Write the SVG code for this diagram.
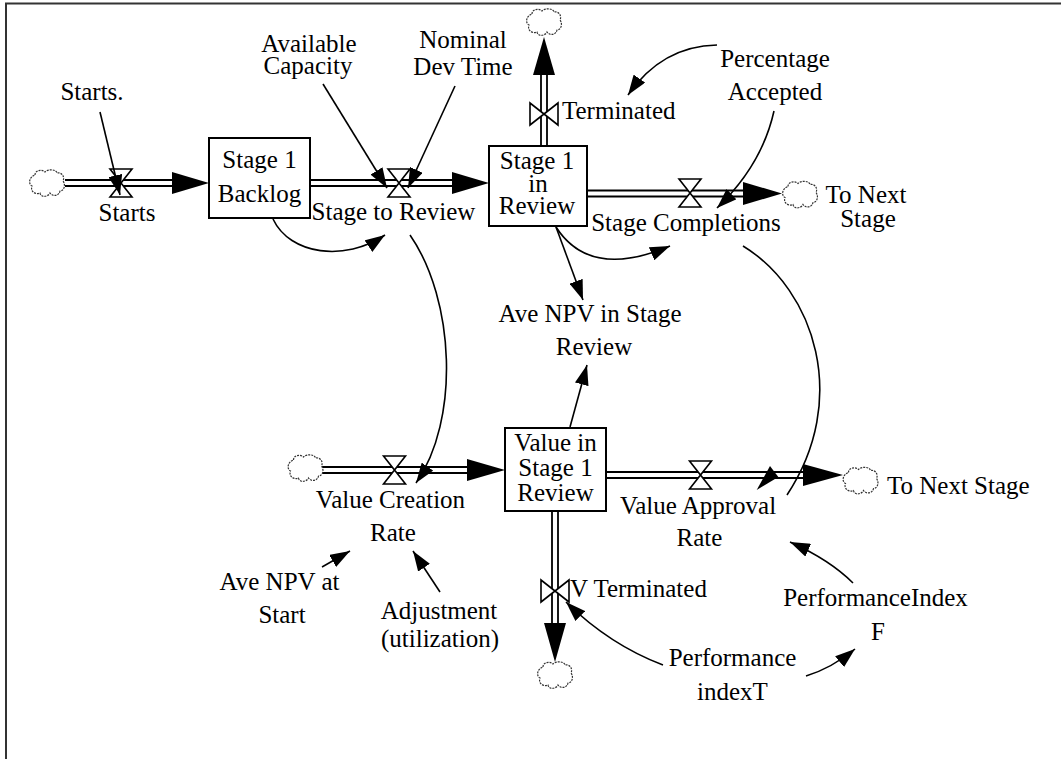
<svg xmlns="http://www.w3.org/2000/svg" width="1061" height="759" viewBox="0 0 1061 759">
<style>
 text{font-family:"Liberation Serif","Times New Roman",serif;font-size:25px;fill:#000}
 .m{text-anchor:middle}
 .box{fill:#fff;stroke:#000;stroke-width:2}
 .valve{fill:#fff;stroke:#000;stroke-width:1.6}
 .pipe{stroke:#000;stroke-width:1.8;fill:none}
 .fh{fill:#000}
 .conn{fill:none;stroke:#000;stroke-width:1.6;marker-end:url(#ah)}
 .line{fill:none;stroke:#000;stroke-width:1.6}
 .cloud{fill:#fff;stroke:#333;stroke-width:1.2;stroke-dasharray:2 1}
 .frame{stroke:#333;stroke-width:2;fill:none}
</style>
<defs>
 <marker id="ah" viewBox="0 0 20 14" refX="20" refY="7" markerWidth="20" markerHeight="14" markerUnits="userSpaceOnUse" orient="auto"><path d="M0,0 L20,7 L0,14 Z" fill="#000"/></marker>
 <path id="cloud" class="cloud" d="M-12,-8 C-12,-13 -5,-14 -2,-11 C1,-14 9,-14 10,-10 C15,-11 18,-6 16,-2 C19,2 17,8 13,8 C12,13 6,14 3,10 C1,14 -6,15 -7,10 C-12,12 -17,8 -15,3 C-19,1 -18,-6 -12,-8 Z"/>
</defs>
<rect width="1061" height="759" fill="#fff"/>
<path class="frame" d="M6,759 V3.5 H1061"/>

<g id="flows">
 <path class="pipe" d="M65,180 H175 M65,186 H175"/>
 <polygon class="fh" points="172,172 209,183 172,194"/>
 <path class="pipe" d="M310,180 H455 M310,186 H455"/>
 <polygon class="fh" points="452,172 489,183 452,194"/>
 <path class="pipe" d="M541,146 V72 M547,146 V72"/>
 <polygon class="fh" points="533,75 544,37 555,75"/>
 <path class="pipe" d="M587,190.5 H746 M587,196.5 H746"/>
 <polygon class="fh" points="743,182 782,193.5 743,205"/>
 <path class="pipe" d="M322,467 H470 M322,473 H470"/>
 <polygon class="fh" points="467,459 505,470 467,481"/>
 <path class="pipe" d="M606,472 H806 M606,478 H806"/>
 <polygon class="fh" points="803,464 843,475 803,486"/>
 <path class="pipe" d="M552,511 V626 M558,511 V626"/>
 <polygon class="fh" points="544,623 555,662 566,623"/>
</g>

<g id="cloud-starts"><use href="#cloud" transform="translate(47,183)"/></g>
<g id="cloud-terminated"><use href="#cloud" transform="translate(544,22)"/></g>
<g id="cloud-completions"><use href="#cloud" transform="translate(800,194.5)"/></g>
<g id="cloud-creation"><use href="#cloud" transform="translate(305.5,468)"/></g>
<g id="cloud-approval"><use href="#cloud" transform="translate(860.5,480.5)"/></g>
<g id="cloud-vterminated"><use href="#cloud" transform="translate(555,675)"/></g>

<g id="stage1-backlog">
 <rect class="box" x="209" y="138" width="101" height="80"/>
 <text class="m" x="259.5" y="168">Stage 1</text>
 <text class="m" x="259.5" y="202">Backlog</text>
</g>
<g id="stage1-in-review">
 <rect class="box" x="489" y="146" width="98" height="80"/>
 <text class="m" x="537" y="168.5">Stage 1</text>
 <text class="m" x="538" y="191.5">in</text>
 <text class="m" x="537" y="214">Review</text>
</g>
<g id="value-in-stage1-review">
 <rect class="box" x="505" y="428" width="101" height="83"/>
 <text class="m" x="555.5" y="450.5">Value in</text>
 <text class="m" x="555.5" y="475.5">Stage 1</text>
 <text class="m" x="555.5" y="500.5">Review</text>
</g>

<g id="starts">
 <path class="valve" d="M110,169 H132 L110,197 H132 Z"/>
 <text class="m" x="127" y="221">Starts</text>
</g>
<g id="stage-to-review">
 <path class="valve" d="M388,169 H410 L388,197 H410 Z"/>
 <text class="m" x="393.5" y="220">Stage to Review</text>
</g>
<g id="terminated">
 <path class="valve" d="M530,103 V125 L558,103 V125 Z"/>
 <text x="562" y="119">Terminated</text>
</g>
<g id="stage-completions">
 <path class="valve" d="M679,179 H701 L679,207 H701 Z"/>
 <text class="m" x="686" y="231">Stage Completions</text>
</g>
<g id="value-creation-rate">
 <path class="valve" d="M383.5,456 H405.5 L383.5,484 H405.5 Z"/>
 <text class="m" x="390.5" y="508">Value Creation</text>
 <text class="m" x="393" y="541">Rate</text>
</g>
<g id="value-approval-rate">
 <path class="valve" d="M689.5,461 H711.5 L689.5,489 H711.5 Z"/>
 <text class="m" x="698" y="513.5">Value Approval</text>
 <text class="m" x="699.5" y="546">Rate</text>
</g>
<g id="v-terminated">
 <path class="valve" d="M541,580 V602 L569,580 V602 Z"/>
 <text x="570" y="597">V Terminated</text>
</g>

<g id="starts-dot"><text class="m" x="92" y="100">Starts.</text></g>
<g id="available-capacity">
 <text class="m" x="309" y="52">Available</text>
 <text class="m" x="308" y="73.5">Capacity</text>
</g>
<g id="nominal-dev-time">
 <text class="m" x="463" y="48">Nominal</text>
 <text class="m" x="463" y="75">Dev Time</text>
</g>
<g id="percentage-accepted">
 <text class="m" x="775" y="66.5">Percentage</text>
 <text class="m" x="775" y="100">Accepted</text>
</g>
<g id="to-next-stage-1">
 <text class="m" x="866" y="203">To Next</text>
 <text class="m" x="868" y="227">Stage</text>
</g>
<g id="ave-npv-in-stage-review">
 <text class="m" x="590" y="322">Ave NPV in Stage</text>
 <text class="m" x="594" y="355">Review</text>
</g>
<g id="to-next-stage-2"><text x="887" y="493.5">To Next Stage</text></g>
<g id="ave-npv-at-start">
 <text class="m" x="279.5" y="590">Ave NPV at</text>
 <text class="m" x="282" y="623">Start</text>
</g>
<g id="adjustment">
 <text class="m" x="439" y="618.5">Adjustment</text>
 <text class="m" x="440" y="647">(utilization)</text>
</g>
<g id="performance-index-f">
 <text class="m" x="875.5" y="606">PerformanceIndex</text>
 <text class="m" x="878" y="639.5">F</text>
</g>
<g id="performance-index-t">
 <text class="m" x="732.5" y="666">Performance</text>
 <text class="m" x="732.5" y="699.5">indexT</text>
</g>

<g id="connectors">
 <path class="conn" d="M100,112 L120,195"/>
 <path class="conn" d="M323,84 L387,188"/>
 <path class="conn" d="M455,86 L408,188"/>
 <path class="conn" d="M717,45 Q662,46 628,95"/>
 <path class="conn" d="M774,111 Q762,165 717,208"/>
 <path class="conn" d="M273,219 C290,255 345,262 385,235"/>
 <path class="conn" d="M556,227 Q590,280 670,246"/>
 <path class="conn" d="M556,227 L583,300"/>
 <path class="conn" d="M570,427 L587,365"/>
 <path class="conn" d="M410,235 C455,300 460,420 416,483"/>
 <path class="line" d="M743,246 C815,290 850,400 787,495"/>
 <polygon class="fh" points="756.7,490 770,466 778.3,477"/>
 <path class="conn" d="M322,567 L350,551"/>
 <path class="conn" d="M440,592 L413,551"/>
 <path class="conn" d="M853,583 Q830,560 790,542"/>
 <path class="conn" d="M806,676 Q832,668 855,649"/>
 <path class="conn" d="M663,665 Q610,645 566,602"/>
</g>
</svg>
